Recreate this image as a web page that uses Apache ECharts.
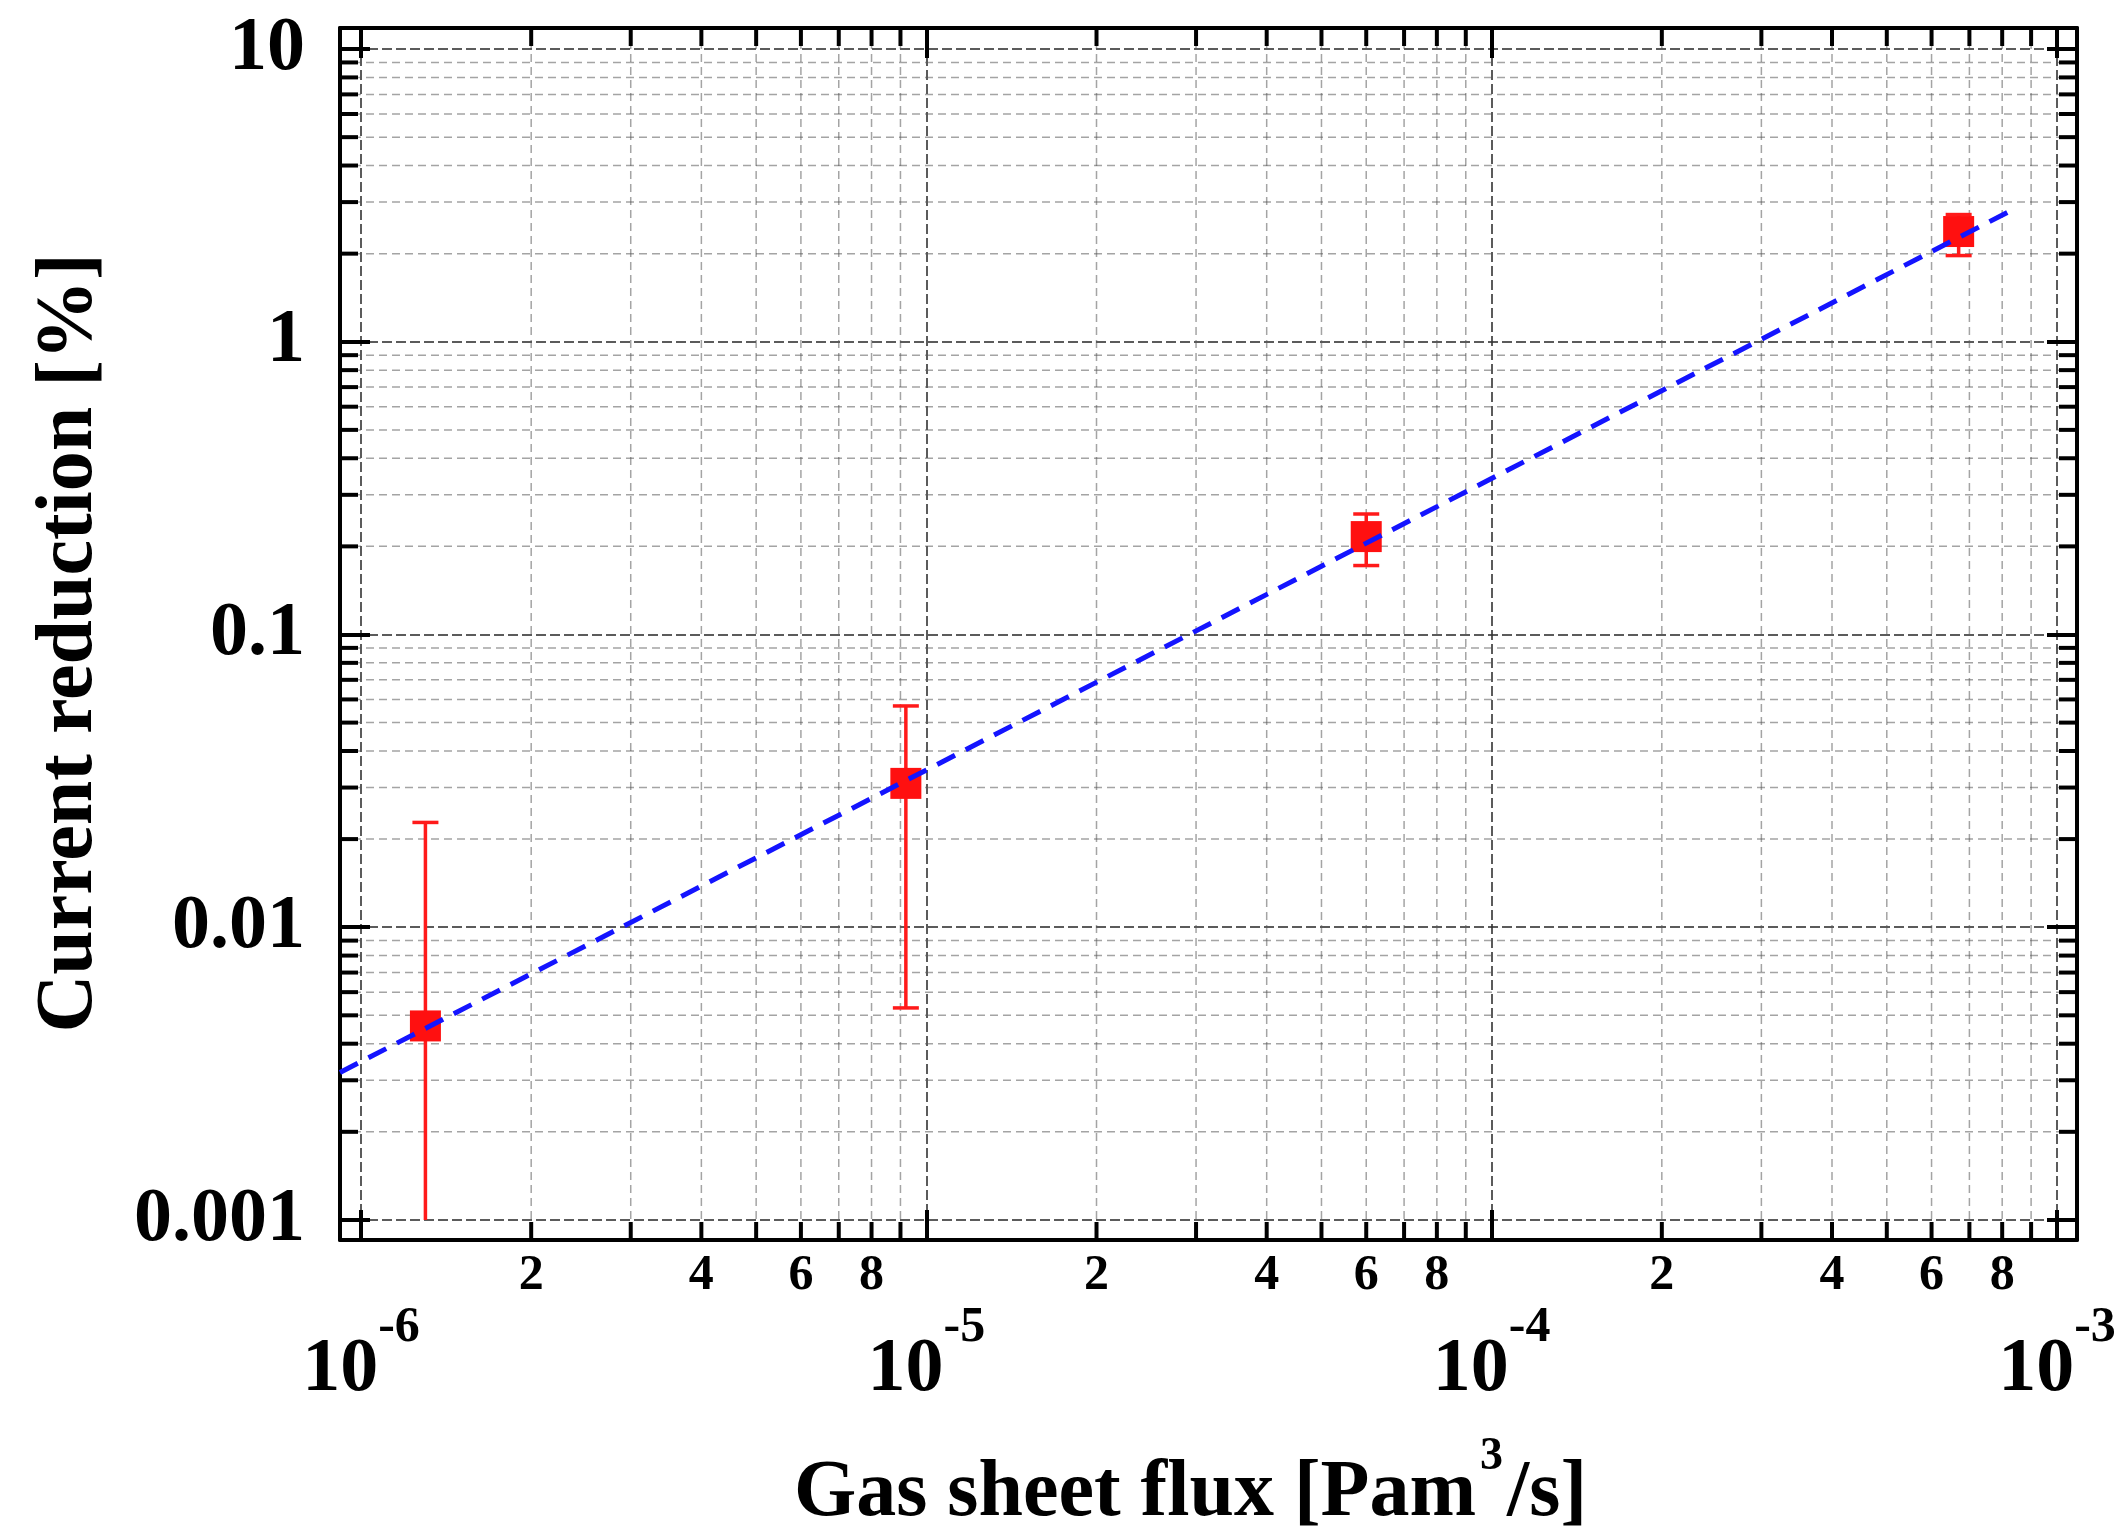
<!DOCTYPE html>
<html><head><meta charset="utf-8">
<script src="https://cdn.jsdelivr.net/npm/echarts@6/dist/echarts.min.js"></script>
<style>html,body{margin:0;padding:0;background:#fff}#c{width:2121px;height:1533px}</style>
</head><body><div id="c"></div>
<script>
// ---- data ----
const fluxX     = [1.30e-6, 9.2e-6, 6.0e-5, 6.7e-4];
const reduction = [0.0046, 0.031, 0.216, 2.38];
const errLow    = [0.001, 0.0053, 0.172, 1.97];
const errHigh   = [0.0228, 0.057, 0.258, 2.72];
const fitX = [9.18e-7, 8.36e-4];
const fitY = [0.00319, 2.83];
// ---- axes ----
const xRange = [9.18e-7, 1.085e-3];
const yRange = [8.54e-4, 11.8];
const xDecades = [1e-6, 1e-5, 1e-4];
const yDecades = [0.001, 0.01, 0.1, 1];
const minorMantissas = [2, 3, 4, 5, 6, 7, 8, 9];
const xMinorLabelMantissas = [2, 4, 6, 8];
const xTitleParts = ['Gas sheet flux [Pam', '3', '/s]'];
const yTitle = 'Current reduction [%]';

const FONT = '"Liberation Serif", "Times New Roman", serif';
const majorGrid = 'rgba(50,50,50,0.8)';
const minorGrid = 'rgba(90,90,90,0.55)';

const xMinor = [];
xDecades.forEach(d => minorMantissas.forEach(m => xMinor.push([d * m, 1, m])));
const yMinor = [];
yDecades.forEach(d => minorMantissas.forEach(m => yMinor.push([1e-5, d * m, m])));

function xLabel(v) {
  const e = Math.log10(v), r = Math.round(e);
  if (Math.abs(e - r) > 1e-6) return '';
  return '{b|10}{s|' + r + '}';
}
function yLabel(v) {
  const e = Math.log10(v), r = Math.round(e);
  if (Math.abs(e - r) > 1e-6) return '';
  return r >= 0 ? String(Math.pow(10, r)) : '0.' + '0'.repeat(-r - 1) + '1';
}

const tickStyle = { color: '#000', width: 4 };
const chart = echarts.init(document.getElementById('c'), null, { renderer: 'canvas' });
chart.setOption({
  backgroundColor: '#fff',
  animation: false,
  grid: { left: 340, right: 44, top: 28, bottom: 293, containLabel: false, outerBoundsMode: 'none' },
  xAxis: [{
    type: 'log', logBase: 10, min: xRange[0], max: xRange[1], position: 'bottom',
    axisLine: { show: true, onZero: false, lineStyle: tickStyle },
    axisTick: { show: true, inside: true, length: 30, lineStyle: tickStyle },
    minorTick: { show: false },
    axisLabel: {
      margin: 63, formatter: xLabel,
      rich: {
        b: { fontSize: 76, fontWeight: 'bold', fontFamily: FONT, color: '#000', lineHeight: 105, verticalAlign: 'bottom' },
        s: { fontSize: 50, fontWeight: 'bold', fontFamily: FONT, color: '#000', lineHeight: 46, verticalAlign: 'top' }
      }
    },
    splitLine: { show: true, lineStyle: { color: majorGrid, width: 2, type: [10, 4] } },
    name: '{t|' + xTitleParts[0] + '}{s|' + xTitleParts[1] + '}{t|' + xTitleParts[2] + '}',
    nameLocation: 'middle', nameGap: 194,
    nameTextStyle: {
      padding: [0, 36, 0, 0],
      rich: {
        t: { fontSize: 80, fontWeight: 'bold', fontFamily: FONT, color: '#000', lineHeight: 100, verticalAlign: 'bottom' },
        s: { fontSize: 46, fontWeight: 'bold', fontFamily: FONT, color: '#000', lineHeight: 44, verticalAlign: 'top', padding: [0, 4, 0, 4] }
      }
    }
  }, {
    type: 'log', logBase: 10, min: xRange[0], max: xRange[1], position: 'top',
    axisLine: { show: true, onZero: false, lineStyle: tickStyle },
    axisTick: { show: true, inside: true, length: 30, lineStyle: tickStyle },
    axisLabel: { show: false }, splitLine: { show: false }
  }],
  yAxis: [{
    type: 'log', logBase: 10, min: yRange[0], max: yRange[1], position: 'left',
    axisLine: { show: true, onZero: false, lineStyle: tickStyle },
    axisTick: { show: true, inside: true, length: 30, lineStyle: tickStyle },
    minorTick: { show: false },
    axisLabel: { margin: 35, formatter: yLabel, fontSize: 76, fontWeight: 'bold', fontFamily: FONT, color: '#000' },
    splitLine: { show: true, lineStyle: { color: majorGrid, width: 2, type: [10, 4] } },
    name: yTitle, nameLocation: 'middle', nameGap: 230,
    nameTextStyle: { fontSize: 80, fontWeight: 'bold', fontFamily: FONT, color: '#000', lineHeight: 80, padding: [0, 18, 0, 0] }
  }, {
    type: 'log', logBase: 10, min: yRange[0], max: yRange[1], position: 'right',
    axisLine: { show: true, onZero: false, lineStyle: tickStyle },
    axisTick: { show: true, inside: true, length: 30, lineStyle: tickStyle },
    axisLabel: { show: false }, splitLine: { show: false }
  }],
  series: [
    { // x minor gridlines, ticks, labels
      type: 'custom', xAxisIndex: 0, yAxisIndex: 0, z: 1, silent: true, clip: false,
      data: xMinor,
      renderItem: function (params, api) {
        const cs = params.coordSys;
        const px = api.coord([api.value(0), api.value(1)])[0];
        const m = api.value(2);
        const top = cs.y, bot = cs.y + cs.height;
        const ch = [
          { type: 'line', shape: { x1: px, y1: top, x2: px, y2: bot }, style: { stroke: minorGrid, lineWidth: 1.5, lineDash: [8, 5] } },
          { type: 'line', shape: { x1: px, y1: bot, x2: px, y2: bot - 18 }, style: { stroke: '#000', lineWidth: 4 } },
          { type: 'line', shape: { x1: px, y1: top, x2: px, y2: top + 18 }, style: { stroke: '#000', lineWidth: 4 } }
        ];
        if (xMinorLabelMantissas.indexOf(m) >= 0) {
          ch.push({ type: 'text', style: { text: String(m), x: px, y: bot + 11, align: 'center', verticalAlign: 'top',
            font: 'bold 50px ' + FONT, fill: '#000' } });
        }
        return { type: 'group', children: ch };
      }
    },
    { // y minor gridlines and ticks
      type: 'custom', xAxisIndex: 0, yAxisIndex: 0, z: 1, silent: true, clip: false,
      data: yMinor,
      renderItem: function (params, api) {
        const cs = params.coordSys;
        const py = api.coord([api.value(0), api.value(1)])[1];
        const l = cs.x, r = cs.x + cs.width;
        return { type: 'group', children: [
          { type: 'line', shape: { x1: l, y1: py, x2: r, y2: py }, style: { stroke: minorGrid, lineWidth: 1.5, lineDash: [8, 5] } },
          { type: 'line', shape: { x1: l, y1: py, x2: l + 18, y2: py }, style: { stroke: '#000', lineWidth: 4 } },
          { type: 'line', shape: { x1: r, y1: py, x2: r - 18, y2: py }, style: { stroke: '#000', lineWidth: 4 } }
        ] };
      }
    },
    { // error bars
      type: 'custom', xAxisIndex: 0, yAxisIndex: 0, z: 3, silent: true,
      data: fluxX.map((x, i) => [x, errLow[i], errHigh[i]]),
      renderItem: function (params, api) {
        const lo = api.coord([api.value(0), api.value(1)]);
        const hi = api.coord([api.value(0), api.value(2)]);
        const hw = 13, st = { stroke: '#ff1a1a', lineWidth: 3.5 };
        const ch = [
          { type: 'line', shape: { x1: lo[0], y1: lo[1], x2: hi[0], y2: hi[1] }, style: st },
          { type: 'line', shape: { x1: hi[0] - hw, y1: hi[1], x2: hi[0] + hw, y2: hi[1] }, style: st }
        ];
        if (api.value(1) > yDecades[0] * 1.0001) {
          ch.push({ type: 'line', shape: { x1: lo[0] - hw, y1: lo[1], x2: lo[0] + hw, y2: lo[1] }, style: st });
        }
        return { type: 'group', children: ch };
      }
    },
    {
      type: 'scatter', xAxisIndex: 0, yAxisIndex: 0, z: 4,
      data: fluxX.map((x, i) => [x, reduction[i]]),
      symbol: 'rect', symbolSize: 31, itemStyle: { color: '#ff1010', opacity: 1 }
    },
    {
      type: 'line', xAxisIndex: 0, yAxisIndex: 0, z: 5,
      data: fitX.map((x, i) => [x, fitY[i]]),
      showSymbol: false, symbol: 'none',
      lineStyle: { color: '#1414ff', width: 5, type: [20, 12] }
    }
  ]
});
</script></body></html>
